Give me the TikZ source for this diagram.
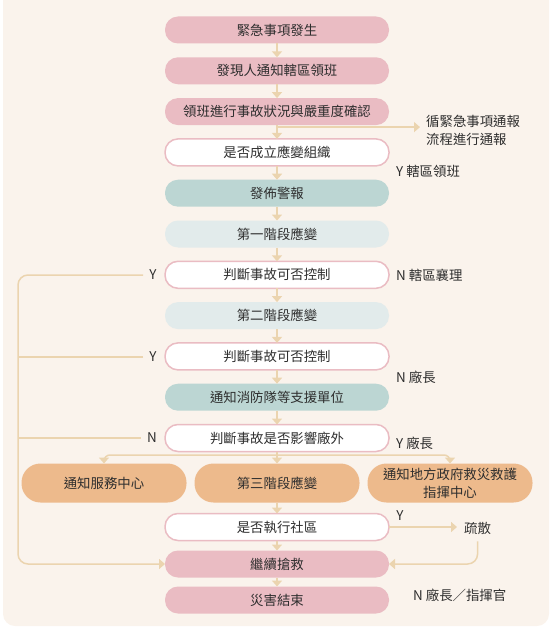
\documentclass[tikz,border=0pt]{standalone}
\usepackage{fontspec}
\setmainfont{Noto Sans CJK TC}
\usepackage{tikz}
\usetikzlibrary{arrows.meta,positioning,calc}
\definecolor{bgcream}{HTML}{FAF3EC}
\definecolor{rosefill}{HTML}{EABCC3}
\definecolor{tealfill}{HTML}{BCD6D3}
\definecolor{palefill}{HTML}{E2EBEB}
\definecolor{orangefill}{HTML}{EDBA8C}
\definecolor{linetan}{HTML}{EBD4AF}
\definecolor{inkgrey}{HTML}{2E2E2E}

\begin{document}
\begin{tikzpicture}[x=1pt,y=-1pt,
  every node/.style={font=\fontsize{13.4pt}{18pt}\selectfont,text=inkgrey},
  base/.style={rounded corners=13pt,minimum width=224pt,minimum height=27pt,inner sep=0pt,outer sep=0pt,align=center},
  rose/.style={base,fill=rosefill},
  ask/.style={base,fill=white,draw=rosefill,line width=1.5pt},
  tealbox/.style={base,fill=tealfill},
  palebox/.style={base,fill=palefill},
  orangebox/.style={base,fill=orangefill,minimum width=165pt,minimum height=39pt,rounded corners=19pt},
  lbl/.style={inner sep=1pt},
  arr/.style={-{Triangle[width=10pt,length=6pt]},draw=linetan,line width=1.5pt},
  feed/.style={draw=linetan,line width=1.5pt},
  node distance=13.8pt]
\useasboundingbox (0,0) rectangle (552,628);
\fill[bgcream,rounded corners=12pt] (3,-14) rectangle (549,626);
% main column
\node[rose] (occur) at (277,30) {緊急事項發生};
\node[rose,below=of occur] (notify) {發現人通知轄區領班};
\node[rose,below=of notify] (confirm) {領班進行事故狀況與嚴重度確認};
\node[ask,below=of confirm] (organize) {是否成立應變組織};
\node[tealbox,below=of organize] (alarm) {發佈警報};
\node[palebox,below=of alarm] (phaseone) {第一階段應變};
\node[ask,below=of phaseone] (controlone) {判斷事故可否控制};
\node[palebox,below=of controlone] (phasetwo) {第二階段應變};
\node[ask,below=of phasetwo] (controltwo) {判斷事故可否控制};
\node[tealbox,below=of controltwo] (support) {通知消防隊等支援單位};
\node[ask,below=of support] (offsite) {判斷事故是否影響廠外};
\node[orangebox,below=12pt of offsite] (phasethree) {第三階段應變};
\node[orangebox,left=8pt of phasethree] (service) {通知服務中心};
\node[orangebox,right=8pt of phasethree] (govern) {通知地方政府救災救護\\指揮中心};
\node[ask,below=11pt of phasethree] (community) {是否執行社區};
\node[rose,below=10pt of community] (rescue) {繼續搶救};
\node[rose,below=9pt of rescue] (finish) {災害結束};
% side labels
\node[lbl,inner sep=6pt,anchor=west,align=left] (procnote) at (420,130) {循緊急事項通報\\流程進行通報};
\node[lbl,anchor=west] (yleader) at (395,171) {Y 轄區領班};
\node[lbl,anchor=west] (nassist) at (395,275) {N 轄區襄理};
\node[lbl,anchor=west] (nchief) at (395,377) {N 廠長};
\node[lbl,anchor=west] (ychief) at (395,443) {Y 廠長};
\node[lbl,anchor=west] (ncommand) at (412,595) {N 廠長／指揮官};
\node[lbl] (ycomm) at (400,516) {Y};
\node[lbl,inner sep=7pt,anchor=west] (evacuate) at (457,528) {疏散};
\node[lbl,inner sep=6pt] (yone) at (153,275) {Y};
\node[lbl,inner sep=6pt] (ytwo) at (153,357) {Y};
\node[lbl,inner sep=6pt] (noff) at (152,438) {N};
\coordinate (rail) at (18,400);
% connectors
\foreach \a/\b in {occur/notify,notify/confirm,confirm/organize,organize/alarm,alarm/phaseone,
  phaseone/controlone,controlone/phasetwo,phasetwo/controltwo,controltwo/support,support/offsite,
  offsite/phasethree,phasethree/community,community/rescue,rescue/finish}
  \draw[arr] (\a) -- (\b);
\coordinate (reportfork) at ([yshift=-2pt]confirm.south);
\draw[arr] (reportfork) -- (reportfork -| procnote.west);
\coordinate (orangefork) at ([yshift=-3.5pt]offsite.south);
\draw[arr,rounded corners=6pt] (orangefork) -| (service.north);
\draw[arr,rounded corners=6pt] (orangefork) -| (govern.north);
\draw[arr,rounded corners=10pt] (yone.west) -| (rail) |- (rescue.west);
\draw[feed] (ytwo.west) -- (ytwo.west -| rail);
\draw[feed] (noff.west) -- (noff.west -| rail);
\draw[arr] (community.east) -- (community.east -| evacuate.west);
\draw[arr,rounded corners=10pt] (evacuate.south) |- (rescue.east);
\end{tikzpicture}
\end{document}
